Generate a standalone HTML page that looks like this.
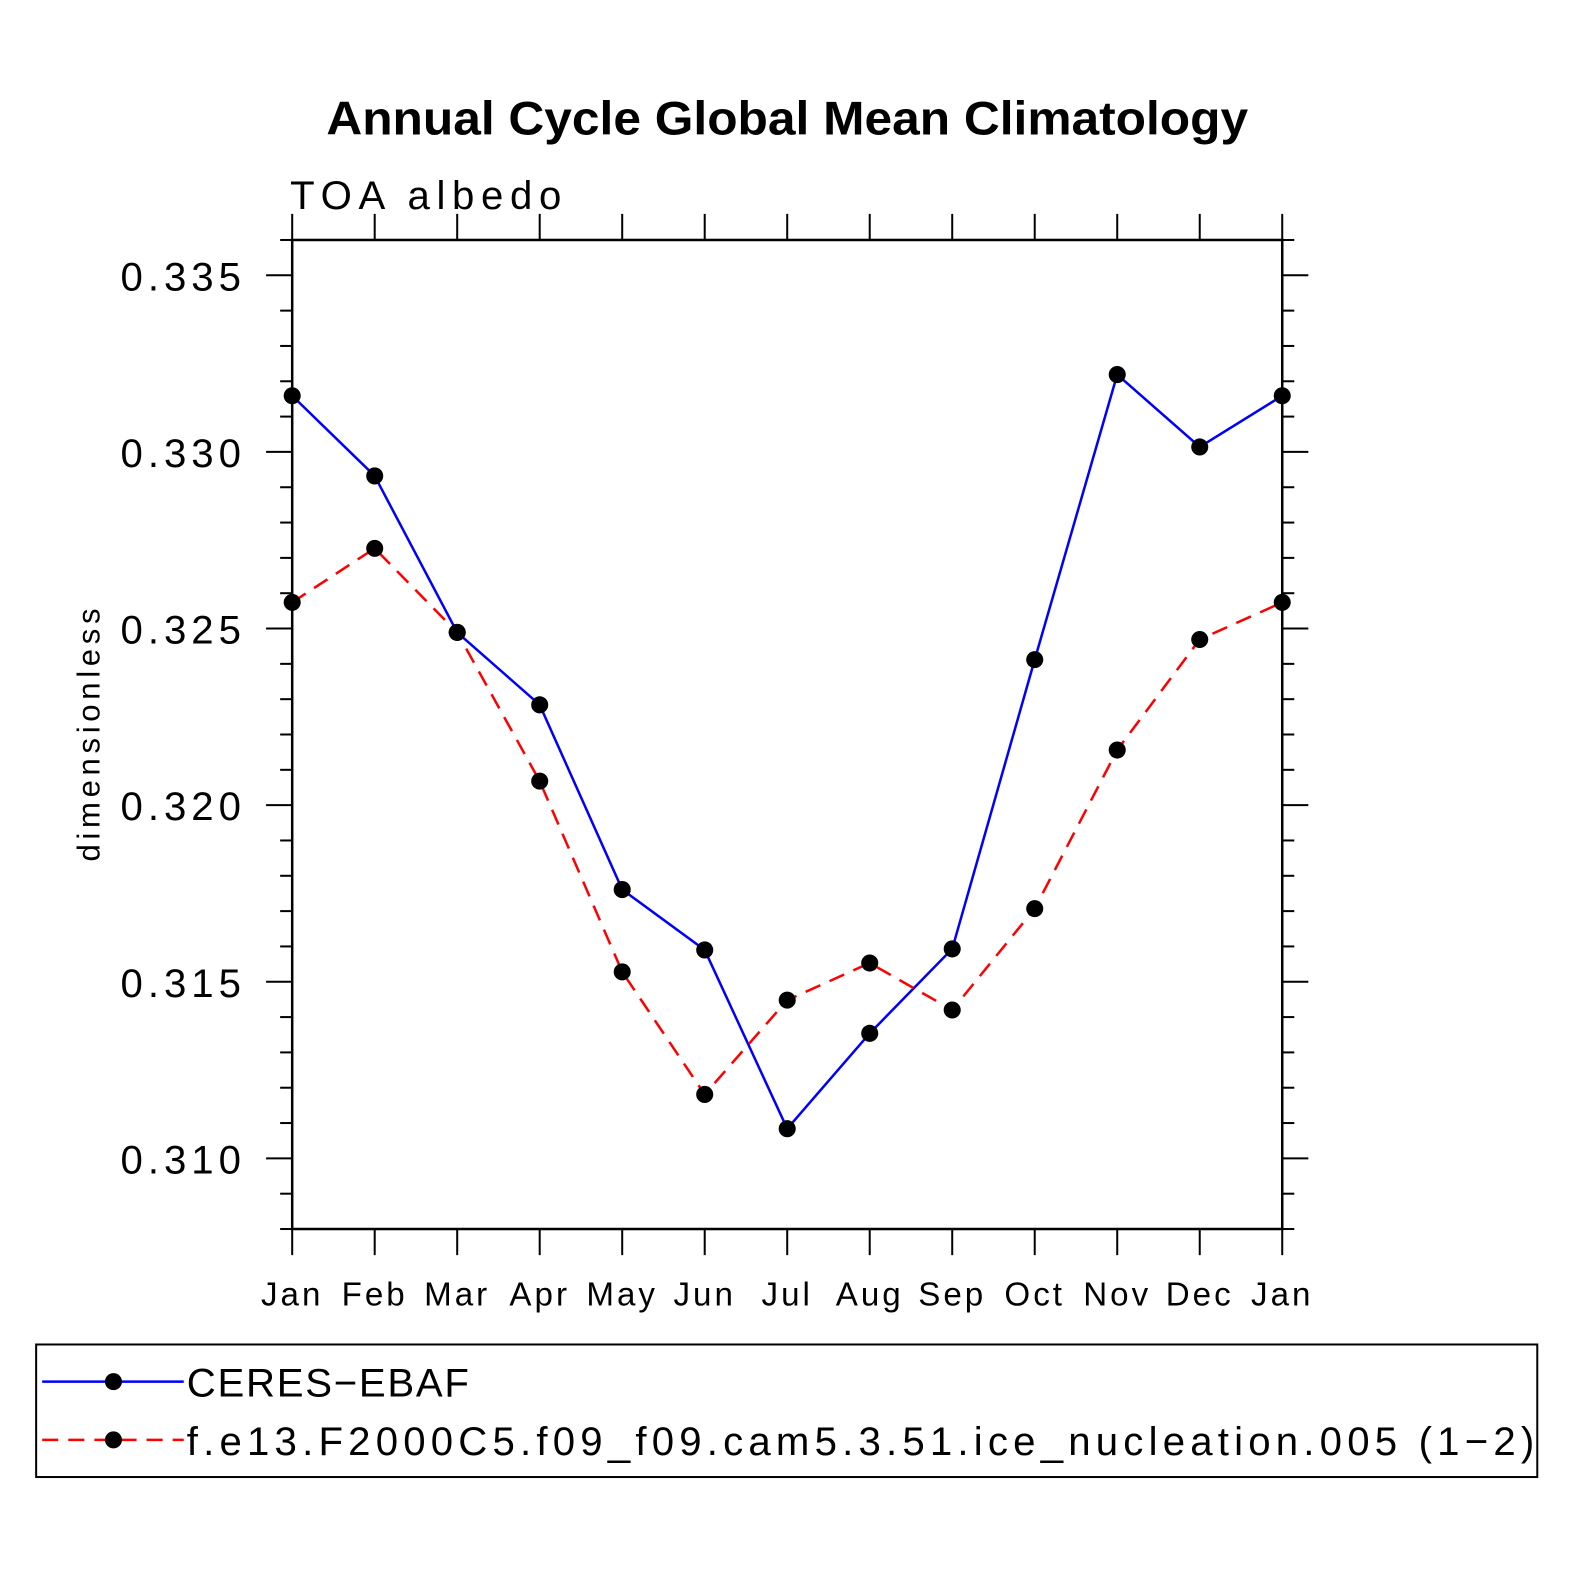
<!DOCTYPE html>
<html><head><meta charset="utf-8"><style>
html,body{margin:0;padding:0;background:#fff;overflow:hidden;width:1574px;height:1574px}
svg{display:block}
svg text{font-family:"Liberation Sans",sans-serif}
</style></head><body>
<svg id="chart" width="1574" height="1574" xmlns="http://www.w3.org/2000/svg">
<rect width="1574" height="1574" fill="#fff"/>
<g transform="scale(1.0041)">
<text x="325" y="134" font-size="47" font-weight="bold" textLength="918" lengthAdjust="spacingAndGlyphs">Annual Cycle Global Mean Climatology</text>
<text x="289" y="208" font-size="40" textLength="270" lengthAdjust="spacing">TOA albedo</text>
<text transform="translate(99,858) rotate(-90)" font-size="31" textLength="252" lengthAdjust="spacing">dimensionless</text>
<g id="axes"></g>
<g id="series"></g>
<g>
<rect x="36" y="1339" width="1495" height="132" fill="none" stroke="#000" stroke-width="2"/>
<line x1="42" y1="1376" x2="183" y2="1376" stroke="#00f" stroke-width="2.5"/>
<circle cx="113" cy="1376" r="8.5" fill="#000"/>
<text x="186" y="1391" font-size="40" textLength="281" lengthAdjust="spacing">CERES−EBAF</text>
<line x1="42" y1="1434" x2="183" y2="1434" stroke="#f00" stroke-width="2.5" stroke-dasharray="16,10"/>
<circle cx="113" cy="1434" r="8.5" fill="#000"/>
<text x="186" y="1449" font-size="40" textLength="1342" lengthAdjust="spacing">f.e13.F2000C5.f09_f09.cam5.3.51.ice_nucleation.005 (1−2)</text>
</g>
</g>
</svg>
<script>
const months=["Jan","Feb","Mar","Apr","May","Jun","Jul","Aug","Sep","Oct","Nov","Dec","Jan"];
const ceres=[0.33159,0.32932,0.32489,0.32284,0.31761,0.31590,0.31084,0.31354,0.31593,0.32412,0.33219,0.33014,0.33159];
const model=[0.32574,0.32727,0.32489,0.32068,0.31528,0.31181,0.31448,0.31553,0.31420,0.31707,0.32156,0.32469,0.32574];
const yTicks=["0.310","0.315","0.320","0.325","0.330","0.335"];
const X0=291,X1=1277,Y0=1224,Y1=239,YMIN=0.308,YMAX=0.336;
const xs=i=>X0+(X1-X0)*i/(months.length-1);
const ys=v=>Y0-(v-YMIN)/(YMAX-YMIN)*(Y0-Y1);
const NS="http://www.w3.org/2000/svg";
function mk(parent,tag,attrs){const e=document.createElementNS(NS,tag);for(const k in attrs)e.setAttribute(k,attrs[k]);parent.appendChild(e);return e;}
const ax=document.getElementById('axes');
const frame=mk(ax,'rect',{x:X0,y:Y1,width:X1-X0,height:Y0-Y1,fill:'none',stroke:'#000','stroke-width':2.5});


for(let k=0;k<=28;k++){const v=YMIN+k*0.001;const y=ys(v);const major=(k-2)%5===0;
 const len=major?26:12;
 mk(ax,'line',{x1:X0-len,y1:y,x2:X0,y2:y,stroke:'#000','stroke-width':2});
 mk(ax,'line',{x1:X1,y1:y,x2:X1+len,y2:y,stroke:'#000','stroke-width':2});}
yTicks.forEach(t=>{const y=ys(parseFloat(t));const e=mk(ax,'text',{x:120,y:y+15,'font-size':40,textLength:120,lengthAdjust:'spacing'});e.textContent=t;
 
 });
months.forEach((m,i)=>{const x=xs(i);
 mk(ax,'line',{x1:x,y1:Y1-26,x2:x,y2:Y1,stroke:'#000','stroke-width':2});
 mk(ax,'line',{x1:x,y1:Y0,x2:x,y2:Y0+26,stroke:'#000','stroke-width':2});
 const e=mk(ax,'text',{x:x,y:1300,'text-anchor':'middle','font-size':33,'letter-spacing':3});e.textContent=m;
 
 });
const sg=document.getElementById('series');
function draw(vals,color,dash,name){
 const pts=vals.map((v,i)=>xs(i)+','+ys(v)).join(' ');
 const l=mk(sg,'polyline',{points:pts,fill:'none',stroke:color,'stroke-width':2.5,'stroke-dasharray':dash});
 
 
 vals.forEach((v,i)=>{const c=mk(sg,'circle',{cx:xs(i),cy:ys(v),r:8.5,fill:'#000'});
  
  });
}
draw(ceres,'#00f','none','ceres');
draw(model,'#f00','16,10','model');
</script>
</body></html>
